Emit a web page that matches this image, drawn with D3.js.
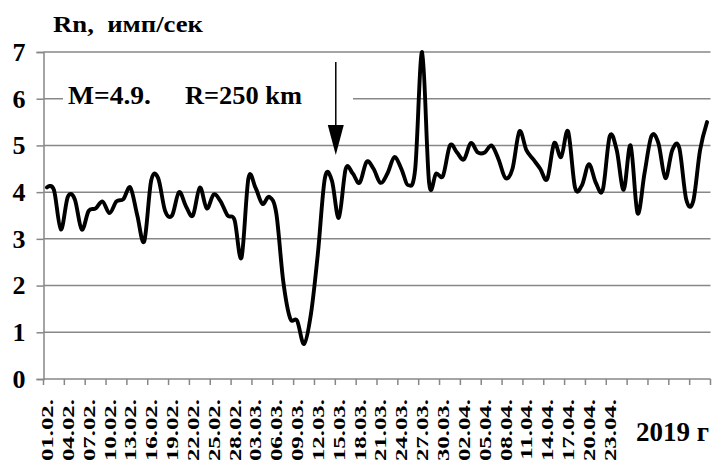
<!DOCTYPE html>
<html>
<head>
<meta charset="utf-8">
<script src="https://cdn.jsdelivr.net/npm/d3@7"></script>
<style>
  body { margin: 0; background: #fff; }
  text { font-family: "Liberation Serif", "Times New Roman", serif; font-weight: bold; fill: #000; white-space: pre; }
</style>
</head>
<body>
<svg id="chart" width="716" height="463"></svg>
<script>
// Daily radon count rate, 01.02.2019 – 07.05.2019
const firstDay = new Date(2019, 1, 1);
const dayAfterLast = new Date(2019, 4, 8);
const days = d3.timeDay.range(firstDay, dayAfterLast);

const rn = [
  4.1, 4.05, 3.2, 3.9, 3.85, 3.2, 3.6, 3.65, 3.8, 3.55,
  3.8, 3.85, 4.1, 3.5, 2.95, 4.25, 4.3, 3.6, 3.5, 4.0,
  3.7, 3.5, 4.1, 3.65, 3.95, 3.8, 3.5, 3.4, 2.6, 4.3,
  4.1, 3.75, 3.9, 3.55, 2.1, 1.3, 1.25, 0.75, 1.4, 2.7,
  4.3, 4.25, 3.45, 4.5, 4.4, 4.2, 4.65, 4.5, 4.2, 4.4,
  4.75, 4.5, 4.15, 4.5, 7.0, 4.2, 4.4, 4.35, 5.0, 4.85,
  4.7, 5.05, 4.85, 4.85, 5.0, 4.7, 4.3, 4.5, 5.3, 4.9,
  4.7, 4.5, 4.28, 5.05, 4.75, 5.3, 4.1, 4.15, 4.6, 4.2,
  4.05, 5.2, 4.9, 4.05, 5.0, 3.55, 4.4, 5.2, 5.05, 4.3,
  4.9, 4.95, 3.85, 3.8, 4.9, 5.5
];

const yTicks = [0, 1, 2, 3, 4, 5, 6, 7];
const xTickLabels = [
  "01.02.", "04.02.", "07.02.", "10.02.", "13.02.", "16.02.", "19.02.",
  "22.02.", "25.02.", "28.02.", "03.03.", "06.03.", "09.03.", "12.03.",
  "15.03.", "18.03.", "21.03.", "24.03.", "27.03.", "30.03.", "02.04.",
  "05.04.", "08.04.", "11.04.", "14.04.", "17.04.", "20.04.", "23.04."
];
const yTitle = "Rn,  имп/сек";
const quakeNote = ["M=4.9.", "R=250 km"];
const yearNote = "2019 г";
const quakeDay = "15.03.";

const fmt = d3.timeFormat("%d.%m.");
const cats = days.map(fmt);

const svg = d3.select("#chart");
const plotLeft = 43.5, plotRight = 710.5, plotTop = 52, plotBottom = 379;

const x = d3.scaleBand().domain(cats).range([plotLeft, plotRight]);
const y = d3.scaleLinear().domain([0, 7]).range([plotBottom, plotTop]);
const cx = c => x(c) + x.bandwidth() / 2;

const gridColor = "#878787";

// horizontal gridlines
svg.append("g").selectAll("line").data(yTicks.filter(d => d > 0)).join("line")
  .attr("x1", plotLeft).attr("x2", plotRight)
  .attr("y1", d => y(d)).attr("y2", d => y(d))
  .attr("stroke", gridColor).attr("stroke-width", 1.5);

// y axis
const yAxis = svg.append("g").attr("transform", `translate(${plotLeft},0)`)
  .call(d3.axisLeft(y).tickValues(yTicks).tickSize(7).tickPadding(11).tickFormat(d3.format("d")));
yAxis.attr("font-family", null).attr("font-size", null);
yAxis.select(".domain").attr("stroke", gridColor).attr("stroke-width", 1.5);
yAxis.selectAll(".tick line").attr("stroke", gridColor).attr("stroke-width", 1.5);
yAxis.selectAll(".tick text").style("font-size", "26px").attr("fill", "#000");

// x axis: tick marks every three days, on category boundaries
const boundaryTicks = d3.range(0, cats.length + 1, 3);
svg.append("line").attr("x1", plotLeft).attr("x2", plotRight).attr("y1", plotBottom).attr("y2", plotBottom)
  .attr("stroke", gridColor).attr("stroke-width", 1.5);
svg.append("g").selectAll("line").data(boundaryTicks).join("line")
  .attr("x1", i => plotLeft + i * x.step()).attr("x2", i => plotLeft + i * x.step())
  .attr("y1", plotBottom).attr("y2", plotBottom + 6)
  .attr("stroke", gridColor).attr("stroke-width", 1.5);

// rotated date labels
svg.append("g").selectAll("text").data(xTickLabels).join("text")
  .attr("transform", d => `translate(${cx(d) + 6},399) rotate(-90) scale(1.42,1)`)
  .attr("text-anchor", "end")
  .style("font-size", "17.5px")
  .text(d => d);

// white box behind the event note
svg.append("rect").attr("x", 63).attr("y", 82).attr("width", 290).attr("height", 30).attr("fill", "#fff");
svg.append("text").attr("x", 68).attr("y", 104).style("font-size", "26px")
  .attr("textLength", 83).attr("lengthAdjust", "spacingAndGlyphs").text(quakeNote[0]);
svg.append("text").attr("x", 185).attr("y", 104).style("font-size", "26px")
  .attr("textLength", 117).attr("lengthAdjust", "spacingAndGlyphs").text(quakeNote[1]);

// series line
const line = d3.line()
  .x((d, i) => cx(cats[i]))
  .y(d => y(d))
  .curve(d3.curveCardinal.tension(0));
svg.append("path").datum(rn)
  .attr("d", line)
  .attr("fill", "none").attr("stroke", "#000").attr("stroke-width", 3.9)
  .attr("stroke-linejoin", "round").attr("stroke-linecap", "round");

// event arrow
const ax = cx(quakeDay) - 3;
svg.append("line").attr("x1", ax).attr("x2", ax).attr("y1", 62).attr("y2", 130)
  .attr("stroke", "#000").attr("stroke-width", 1.5);
svg.append("path")
  .attr("d", `M${ax - 8},125 L${ax + 8},125 L${ax},155 Z`)
  .attr("fill", "#000");

// titles
svg.append("text").attr("x", 53).attr("y", 32).style("font-size", "23px")
  .attr("textLength", 150).attr("lengthAdjust", "spacingAndGlyphs").text(yTitle);
svg.append("text").attr("x", 709).attr("y", 441).attr("text-anchor", "end").style("font-size", "27px").text(yearNote);
</script>
</body>
</html>
